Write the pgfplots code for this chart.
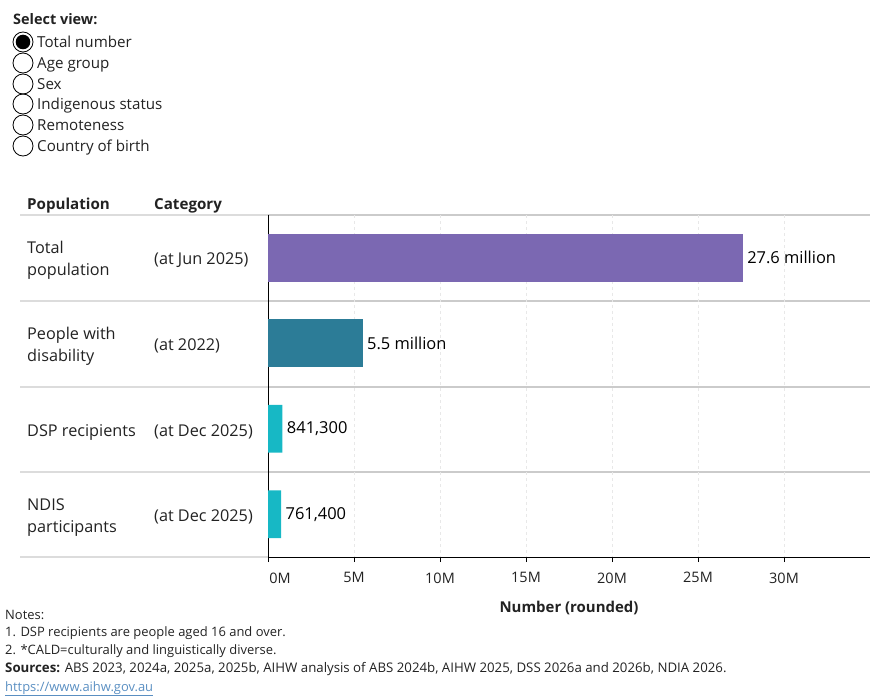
\documentclass[border=0pt]{standalone}
\usepackage{fontspec}
\setmainfont{Open Sans}
\usepackage{pgfplots}
\pgfplotsset{compat=1.18}

\definecolor{purp}{HTML}{7B68B2}
\definecolor{tealc}{HTML}{2C7C97}
\definecolor{cyanc}{HTML}{17B8C5}
\definecolor{sep}{HTML}{DCDCDC}
\definecolor{sepr}{HTML}{CBCBCB}
\definecolor{txt}{HTML}{222222}
\definecolor{link}{HTML}{5A8FC2}

\newcommand{\fs}[1]{\fontsize{#1}{#1}\selectfont}

\begin{document}
\begin{tikzpicture}[x=1bp,y=1bp]
\path (0,0) rectangle (890,-700);

% view selector
\node[anchor=base west, font=\fs{14.5}\bfseries, text=txt, inner sep=0] at (13,-25) {Select view:};
\foreach \yy/\lab in {42/Total number,63/Age group,84/Sex,104/Indigenous status,125/Remoteness,146/Country of birth}{
  \draw[black, line width=0.8bp] (23,-\yy) circle (10);
  \node[anchor=base west, font=\fs{15.2}, text=txt, inner sep=0] at (37,-\yy-5.3) {\lab};
}
\fill[black] (23,-42) circle (7.3);

% column headers
\node[anchor=base west, font=\fs{15.2}\bfseries, text=txt, inner sep=0] at (27,-209) {Population};
\node[anchor=base west, font=\fs{15.2}\bfseries, text=txt, inner sep=0] at (154,-209) {Category};

% row separators
\foreach \yy in {215,301,387,472}{
  \draw[sep, line width=2bp] (20,-\yy) -- (268,-\yy);
  \draw[sepr, line width=1.2bp] (268,-\yy) -- (870,-\yy);
}
\draw[sep, line width=2bp] (20,-557) -- (268,-557);

% row labels
\begin{scope}[every node/.style={anchor=base west, font=\fs{16.3}, text=txt, inner sep=0}]
\node at (27,-253.5) {Total};
\node at (27,-275.5) {population};
\node at (154,-264) {(at Jun 2025)};
\node at (27,-339.5) {People with};
\node at (27,-361.5) {disability};
\node at (154,-350) {(at 2022)};
\node at (27,-436) {DSP recipients};
\node at (154,-436) {(at Dec 2025)};
\node at (27,-510.5) {NDIS};
\node at (27,-532.5) {participants};
\node at (154,-521) {(at Dec 2025)};
\end{scope}

\begin{axis}[
  at={(268bp,-557bp)}, anchor=south west,
  scale only axis, width=602bp, height=342bp,
  xbar, bar width=0.56, bar shift=0pt,
  y dir=reverse, ymin=-0.5, ymax=3.5, ytick=\empty,
  xmin=0, xmax=35,
  xtick={5,10,...,30},
  extra x ticks={0},
  extra x tick style={grid=none, xticklabel style={xshift=12bp}},
  xticklabel={\pgfmathprintnumber{\tick}M},
  /pgf/number format/assume math mode=true,
  xtick align=outside, major tick length=5bp,
  tick style={black, line width=0.8bp},
  xticklabel style={font=\fs{14.5}, text=txt, yshift=-7bp},
  axis x line*=bottom, axis y line*=left,
  axis line style={black, line width=1bp, -},
  xmajorgrids, major grid style={dashed, gray!18, line width=0.6bp},
  xlabel={Number (rounded)},
  xlabel style={font=\fs{15}\bfseries, text=txt, yshift=-1bp},
  point meta=explicit symbolic,
  nodes near coords,
  nodes near coords style={anchor=west, font=\fs{16.5}, text=black, xshift=1bp},
]
\addplot[draw=none, fill=purp] coordinates {(27.6,0) [27.6 million]};
\addplot[draw=none, fill=tealc] coordinates {(5.5,1) [5.5 million]};
\addplot[draw=none, fill=cyanc] coordinates {(0.8413,2) [841{,}300] (0.7614,3) [761{,}400]};
\end{axis}

% notes and sources
\begin{scope}[every node/.style={anchor=base west, font=\fs{13}, text=txt, inner sep=0}]
\node at (5,-619) {Notes:};
\node at (5,-636.5) {1. DSP recipients are people aged 16 and over.};
\node at (5,-654.5) {2. *CALD=culturally and linguistically diverse.};
\node[font=\fs{13.3}] at (5,-672.5) {\textbf{Sources:} ABS 2023, 2024a, 2025a, 2025b, AIHW analysis of ABS 2024b, AIHW 2025, DSS 2026a and 2026b, NDIA 2026.};
\node[text=link] at (5,-691) {\underline{https://www.aihw.gov.au}};
\end{scope}
\end{tikzpicture}
\end{document}
